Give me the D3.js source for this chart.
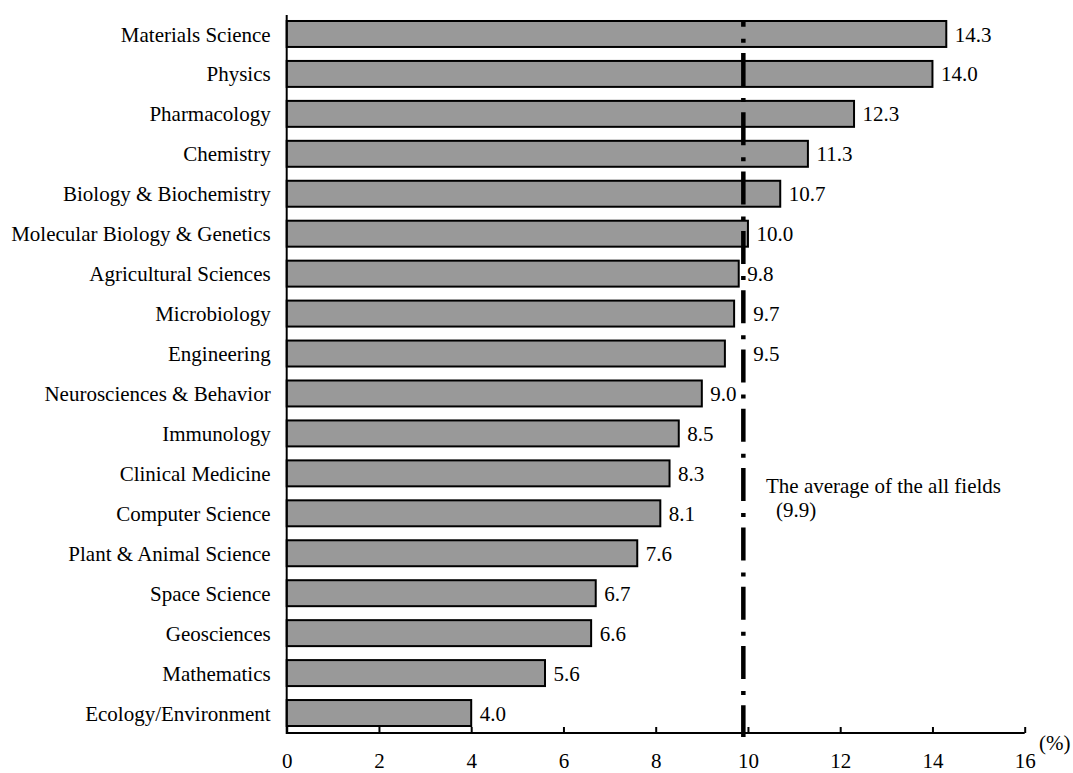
<!DOCTYPE html>
<html>
<head>
<meta charset="utf-8">
<script src="https://cdn.jsdelivr.net/npm/d3@7"></script>
<style>
  html, body { margin: 0; padding: 0; background: #fff; }
  svg { display: block; }
</style>
</head>
<body>
<svg id="chart" width="1073" height="773"></svg>
<script>
// Share of papers by research field (%)
const fields = [
  "Materials Science", "Physics", "Pharmacology", "Chemistry",
  "Biology & Biochemistry", "Molecular Biology & Genetics",
  "Agricultural Sciences", "Microbiology", "Engineering",
  "Neurosciences & Behavior", "Immunology", "Clinical Medicine",
  "Computer Science", "Plant & Animal Science", "Space Science",
  "Geosciences", "Mathematics", "Ecology/Environment"
];
const shares = [14.3, 14.0, 12.3, 11.3, 10.7, 10.0, 9.8, 9.7, 9.5, 9.0, 8.5, 8.3, 8.1, 7.6, 6.7, 6.6, 5.6, 4.0];
const xTicks = [0, 2, 4, 6, 8, 10, 12, 14, 16];
const averageAll = 9.9;
const averageLabel = ["The average of the all fields", "(9.9)"];
const unitLabel = "(%)";

const serif = "'Liberation Serif', 'Times New Roman', Tinos, 'DejaVu Serif', serif";
const svg = d3.select("#chart").attr("font-family", serif);
const plotLeft = 286.7, plotRight = 1024.7, plotTop = 14, plotBottom = 733;
const fontSize = 21;

const x = d3.scaleLinear().domain([0, 16]).range([plotLeft, plotRight]);
const y = d3.scaleBand().domain(fields).range([plotTop, plotBottom])
  .paddingInner(0.35).paddingOuter(0.175);
const avgX = x(averageAll);

// bars
svg.append("g").selectAll("rect")
  .data(fields)
  .join("rect")
  .attr("x", x(0))
  .attr("y", d => y(d))
  .attr("width", (d, i) => x(shares[i]) - x(0))
  .attr("height", y.bandwidth())
  .attr("fill", "#999999")
  .attr("stroke", "#000")
  .attr("stroke-width", 2);

// value labels; a label that would sit on the average line is moved past it
function labelX(v) {
  const nx = x(v) + 8.5;
  return (nx < avgX + 2 && nx + 30 > avgX) ? avgX + 10 : nx;
}
svg.append("g").selectAll("text")
  .data(fields)
  .join("text")
  .attr("x", (d, i) => labelX(shares[i]))
  .attr("y", d => y(d) + y.bandwidth() / 2)
  .attr("dy", "0.36em")
  .attr("font-size", fontSize)
  .text((d, i) => shares[i].toFixed(1));

// category labels
svg.append("g").selectAll("text")
  .data(fields)
  .join("text")
  .attr("x", plotLeft - 16)
  .attr("y", d => y(d) + y.bandwidth() / 2)
  .attr("dy", "0.36em")
  .attr("text-anchor", "end")
  .attr("font-size", fontSize)
  .text(d => d);

// x axis with inward ticks
const xAxis = svg.append("g")
  .attr("transform", `translate(0,${plotBottom})`)
  .call(d3.axisBottom(x).tickValues(xTicks).tickSize(-6).tickPadding(0).tickFormat(d3.format("d")));
xAxis.attr("font-family", serif).attr("font-size", fontSize);
xAxis.select(".domain").attr("stroke", "#000").attr("stroke-width", 2).attr("d", `M${plotLeft},0H${plotRight}`);
xAxis.selectAll(".tick line").attr("stroke", "#000").attr("stroke-width", 2);
xAxis.selectAll(".tick text")
  .attr("y", 35).attr("dy", 0)
  .attr("fill", "#000");

// y axis line
svg.append("line")
  .attr("x1", plotLeft).attr("x2", plotLeft)
  .attr("y1", 15).attr("y2", plotBottom + 1)
  .attr("stroke", "#000").attr("stroke-width", 2);

// unit label
svg.append("text")
  .attr("x", 1039).attr("y", 750)
  .attr("font-size", fontSize)
  .text(unitLabel);

// dash-dot line for the all-field average
svg.append("line")
  .attr("x1", avgX).attr("x2", avgX)
  .attr("y1", 20).attr("y2", 737)
  .attr("stroke", "#000").attr("stroke-width", 4.5)
  .attr("stroke-dasharray", "33,12,4,10.3")
  .attr("stroke-dashoffset", 26.3);

svg.append("text")
  .attr("x", 766).attr("y", 493)
  .attr("font-size", fontSize)
  .text(averageLabel[0]);
svg.append("text")
  .attr("x", 776).attr("y", 517)
  .attr("font-size", fontSize)
  .text(averageLabel[1]);
</script>
</body>
</html>
